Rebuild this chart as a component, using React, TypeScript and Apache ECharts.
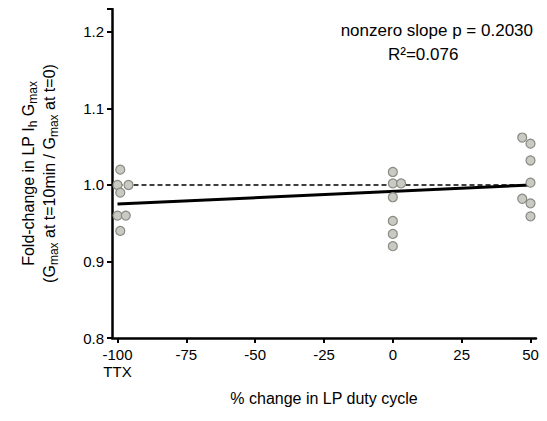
import { useEffect, useRef } from "react";
import * as echarts from "echarts";

const ttxX = [-99, -100, -96, -99, -100, -97, -99];
const ttxY = [1.02, 1.0, 1.0, 0.99, 0.96, 0.96, 0.94];
const zeroX = [0, 0, 3, 0, 0, 0, 0];
const zeroY = [1.017, 1.002, 1.002, 0.984, 0.953, 0.936, 0.92];
const fiftyX = [47, 50, 53, 50, 50, 47, 50, 53, 50];
const fiftyY = [1.062, 1.054, 1.062, 1.032, 1.003, 0.982, 0.976, 0.982, 0.959];
const fitLine = [[-100, 0.975], [50, 1.0]];
const refLine = [[-100, 1.0], [50, 1.0]];
const xTicks = [-100, -75, -50, -25, 0, 25, 50];

export default function App() {
  const ref = useRef<HTMLDivElement | null>(null);
  useEffect(() => {
    if (!ref.current) return;
    const chart = echarts.init(ref.current, undefined, { renderer: "svg" });
    const pts = [
      ...ttxX.map((x, i) => [x, ttxY[i]]),
      ...zeroX.map((x, i) => [x, zeroY[i]]),
      ...fiftyX.map((x, i) => [x, fiftyY[i]]),
    ];
    const font = "Liberation Sans";
    chart.setOption({
      animation: false,
      textStyle: { fontFamily: font },
      grid: { left: 112, right: 11, top: 9, bottom: 83 },
      xAxis: {
        type: "value", min: -102, max: 52,
        axisLine: { onZero: false, lineStyle: { color: "#000", width: 2.5 } },
        axisTick: { length: 5, lineStyle: { width: 2 }, customValues: xTicks },
        splitLine: { show: false },
        axisLabel: {
          color: "#000", fontSize: 15, margin: 8, customValues: xTicks, lineHeight: 17,
          formatter: (v: number) => (v === -100 ? "-100\nTTX" : String(v)),
        },
        name: "% change in LP duty cycle",
        nameLocation: "middle", nameGap: 52,
        nameTextStyle: { color: "#000", fontSize: 16 },
      },
      yAxis: {
        type: "value", min: 0.8, max: 1.23, interval: 0.1,
        axisLine: { show: true, onZero: false, lineStyle: { color: "#000", width: 2.5 } },
        axisTick: { show: true, length: 5, lineStyle: { width: 2 } },
        splitLine: { show: false },
        axisLabel: {
          color: "#000", fontSize: 15,
          formatter: (v: number) => (Math.abs(v - 1.23) < 0.001 ? "" : v.toFixed(1)),
        },
        name: "{n|Fold-change in LP I}{s|h}{n| G}{s|max}\n{n|(G}{s|max}{n| at t=10min / G}{s|max}{n| at t=0)}",
        nameLocation: "middle", nameGap: 52, nameRotate: 90,
        nameTextStyle: {
          color: "#000",
          rich: {
            n: { fontSize: 16, fontFamily: font, color: "#000", lineHeight: 21 },
            s: { fontSize: 12, fontFamily: font, color: "#000", verticalAlign: "bottom", padding: [6, 0, 0, 0], lineHeight: 21 },
          },
        },
      },
      graphic: [
        { type: "text", right: 14, top: 22, style: { text: "nonzero slope p = 0.2030", fontSize: 17, fontFamily: font, fill: "#000" } },
        { type: "text", left: 388, top: 46, style: { text: "R²=0.076", fontSize: 17, fontFamily: font, fill: "#000" } },
      ],
      series: [
        {
          type: "line", data: refLine, showSymbol: false, z: 1,
          lineStyle: { color: "#000", width: 1.5, type: [5, 3] },
        },
        {
          type: "line", data: fitLine, showSymbol: false, z: 2,
          lineStyle: { color: "#000", width: 3 },
        },
        {
          type: "scatter", data: pts, symbolSize: 9, z: 3,
          itemStyle: { color: "#c9cac2", borderColor: "#8a8a84", borderWidth: 1.2, opacity: 1 },
        },
      ],
    });
    return () => chart.dispose();
  }, []);
  return <div ref={ref} style={{ width: 547, height: 421, margin: -8, background: "#fff" }} />;
}
